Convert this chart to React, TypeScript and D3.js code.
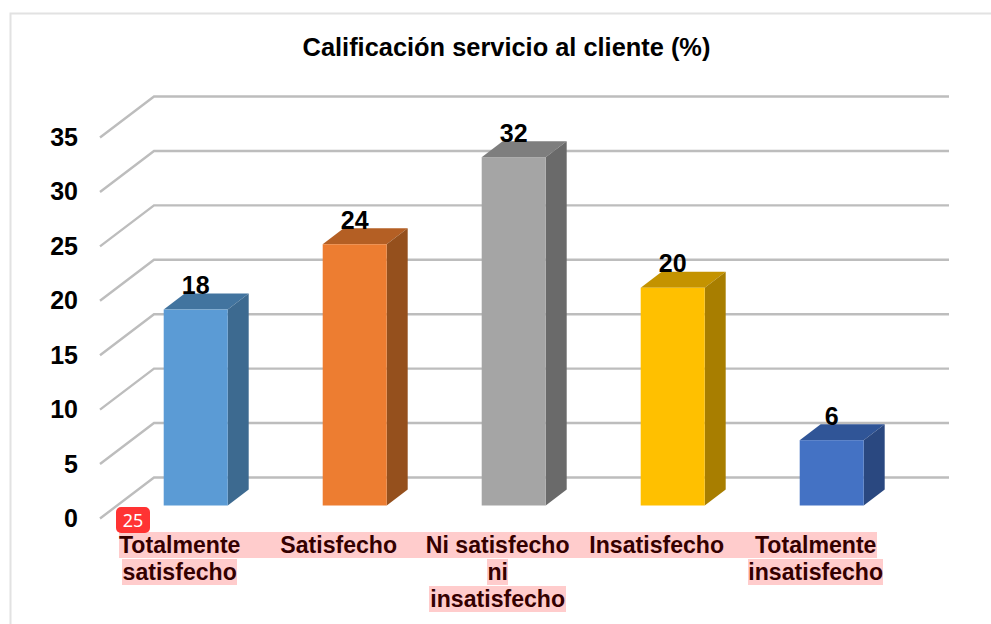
import React from "react";
import * as d3 from "d3";

const title = "Calificación servicio al cliente (%)";
const categories = ["Totalmente satisfecho", "Satisfecho", "Ni satisfecho ni insatisfecho", "Insatisfecho", "Totalmente insatisfecho"];
const categoryLines = [["Totalmente", "satisfecho"], ["Satisfecho"], ["Ni satisfecho", "ni", "insatisfecho"], ["Insatisfecho"], ["Totalmente", "insatisfecho"]];
const values = [18, 24, 32, 20, 6];
const yTicks = [0, 5, 10, 15, 20, 25, 30, 35];
const frontColors = ["#5b9bd5", "#ed7d31", "#a5a5a5", "#ffc000", "#4472c4"];
const topColors = ["#42749f", "#b45f24", "#7e7e7e", "#c49300", "#305597"];
const sideColors = ["#3d6a90", "#95501d", "#6a6a6a", "#a87e00", "#2a4880"];
const badgeLabel = "25";

const FONT = "'Liberation Sans', Arial, sans-serif";
const y = d3.scaleLinear().domain([0, 35]).range([477.5, 96.5]);
const x = d3.scaleBand<string>().domain(categories).range([116.2, 911.2]).paddingInner(0.5975).paddingOuter(0.29875);
const BASE = 28;
const FLOOR = 41;
const DX = 21, DY = 16;
const line = d3.line();
const LINE_H = 27;

export default function App() {
  return (
    <svg width={991} height={624} style={{ position: "absolute", left: 0, top: 0, background: "#fff" }} fontFamily={FONT}>
      <path d="M10.5 624V13.5H991" fill="none" stroke="#e2e2e2" strokeWidth={2} />
      <text x={506.5} y={56} textAnchor="middle" fontWeight="bold" fontSize={25.4}>{title}</text>
      {yTicks.map((t) => (
        <g key={t}>
          <path d={line([[100, y(t) + FLOOR], [154, y(t)], [949, y(t)]]) as string} fill="none" stroke="#bdbdbd" strokeWidth={2.4} />
          <text x={78} y={y(t) + FLOOR + 8.5} textAnchor="end" fontWeight="bold" fontSize={25}>{t}</text>
        </g>
      ))}
      {categories.map((c, i) => {
        const x0 = x(c) as number;
        const w = x.bandwidth();
        const yt = y(values[i]) + BASE;
        const yb = y(0) + BASE;
        return (
          <g key={c}>
            <path d={line([[x0, yt], [x0 + DX, yt - DY], [x0 + w + DX, yt - DY], [x0 + w, yt]]) + "Z"} fill={topColors[i]} />
            <path d={line([[x0 + w, yt], [x0 + w + DX, yt - DY], [x0 + w + DX, yb - DY], [x0 + w, yb]]) + "Z"} fill={sideColors[i]} />
            <rect x={x0} y={yt} width={w} height={yb - yt} fill={frontColors[i]} />
            <text x={x0 + w / 2} y={yt - 15.5} textAnchor="middle" fontWeight="bold" fontSize={25}>{values[i]}</text>
          </g>
        );
      })}
      {categories.map((c, i) => {
        const cx = (x(c) as number) + x.bandwidth() / 2 - 16;
        return categoryLines[i].map((l, j) => (
          <text key={l + j} x={cx} y={553 + j * LINE_H} textAnchor="middle" fontWeight="bold" fontSize={23.1}>{l}</text>
        ));
      })}
      <g fill="#ff0000" fillOpacity={0.2}>
        <rect x={119} y={532} width={758} height={26} />
        <rect x={122} y={559} width={115} height={26} />
        <rect x={487} y={559} width={21} height={26} />
        <rect x={748} y={559} width={135} height={26} />
        <rect x={429} y={586} width={137} height={26} />
      </g>
      <rect x={116} y={507} width={34} height={26} rx={5} fill="#ff3333" />
      <text x={133} y={527} textAnchor="middle" fill="#fff" fontSize={18} fontFamily="'Noto Sans', sans-serif">{badgeLabel}</text>
    </svg>
  );
}
